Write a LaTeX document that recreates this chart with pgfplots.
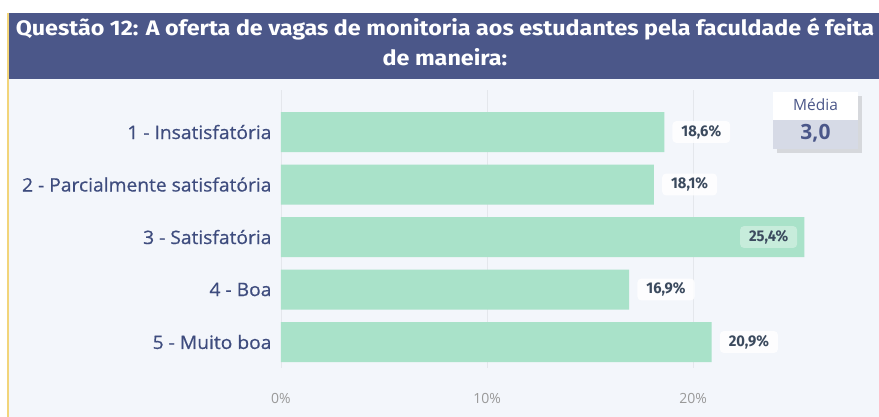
\documentclass[border=0pt]{standalone}
\usepackage{pgfplots}
\pgfplotsset{compat=1.18}
\usepackage{fontspec}
\setmainfont{Open Sans}
\newfontfamily\titlefont[FakeStretch=1.11]{Fira Sans}
\newfontfamily\labfont[FakeStretch=1.04, FakeBold=0.6]{Open Sans}
\newfontfamily\valfont[FakeStretch=0.95]{Fira Sans}
\usetikzlibrary{shadows}

\definecolor{band}{HTML}{4B5789}
\definecolor{panel}{HTML}{F3F6FB}
\definecolor{edge}{HTML}{F2D57A}
\definecolor{barfill}{HTML}{A9E2C9}
\definecolor{labtext}{HTML}{3E4C7E}
\definecolor{valtext}{HTML}{3B4A5E}
\definecolor{gridc}{HTML}{E4E7EC}
\definecolor{mediabg}{HTML}{D6DAE6}

\begin{document}
\begin{tikzpicture}[x=1pt,y=1pt]
\useasboundingbox (0,0) rectangle (879,-417);
\fill[white] (0,0) rectangle (879,-417);
\fill[panel] (8,-13) rectangle (879,-417);
\fill[band] (8,-13) rectangle (879,-79);
\draw[edge, line width=1.5pt] (8,-13) -- (8,-417);
\node[text=white, align=center, inner sep=0pt,
  font=\titlefont\bfseries\fontsize{21}{30}\selectfont] at (445,-42)
  {Questão 12: A oferta de vagas de monitoria aos estudantes pela faculdade é feita\\de maneira:};

\begin{axis}[
  at={(281pt,-368pt)}, anchor=south west,
  scale only axis, width=579pt, height=278pt,
  xmin=0, xmax=28.1,
  ymin=-0.8, ymax=4.495,
  y dir=reverse,
  axis line style={draw=none},
  major tick length=0pt,
  xmajorgrids, grid style={gridc, line width=0.8pt},
  xtick={0,10,20},
  xticklabel={\pgfmathprintnumber{\tick}\%},
  xticklabel style={yshift=-22pt, text=gray!80, font=\fontsize{14}{15}\selectfont},
  ytick={0,1,2,3,4},
  yticklabels={1 - Insatisfatória, 2 - Parcialmente satisfatória, 3 - Satisfatória, 4 - Boa, 5 - Muito boa},
  yticklabel style={text=labtext, font=\labfont\fontsize{18.5}{20}\selectfont, xshift=-6pt},
  /pgf/number format/assume math mode=true,
  point meta=x,
  clip=false,
]
\addplot[xbar, bar width=40pt, bar shift=0pt, fill=barfill, draw=none]
  coordinates {(18.6,0) (18.1,1) (25.4,2) (16.9,3) (20.9,4)};
\addplot[draw=none, mark=none,
  nodes near coords={\pgfmathprintnumber[use comma,fixed,fixed zerofill,precision=1]{\pgfplotspointmeta}\%},
  every node near coord/.append style={anchor=west, xshift=8pt, fill=white, fill opacity=0.85, text opacity=1,
    rounded corners=4pt, inner xsep=9pt, inner ysep=4pt, text=valtext, font=\valfont\bfseries\fontsize{15.5}{16}\selectfont}]
  coordinates {(18.6,0) (18.1,1) (16.9,3) (20.9,4)};
\addplot[draw=none, mark=none,
  nodes near coords={\pgfmathprintnumber[use comma,fixed,fixed zerofill,precision=1]{\pgfplotspointmeta}\%},
  every node near coord/.append style={anchor=east, xshift=-7pt, fill=white, fill opacity=0.35, text opacity=1,
    rounded corners=4pt, inner xsep=9pt, inner ysep=4pt, text=valtext, font=\valfont\bfseries\fontsize{15.5}{16}\selectfont}]
  coordinates {(25.4,2)};
\end{axis}

% Media box
\fill[white, drop shadow={opacity=0.25, shadow xshift=4pt, shadow yshift=-4pt}] (773,-92) rectangle (858,-149);
\fill[mediabg] (773,-120) rectangle (858,-149);
\node[text=band, font=\fontsize{15.5}{16}\selectfont] at (815.5,-105) {Média};
\node[text=band, font=\bfseries\fontsize{21}{22}\selectfont] at (815.5,-133) {3,0};
\end{tikzpicture}
\end{document}
